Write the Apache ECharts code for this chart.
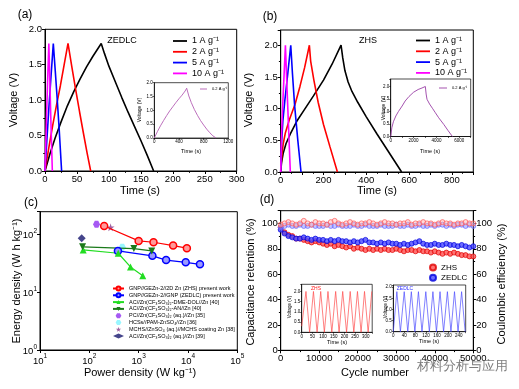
<!DOCTYPE html>
<html><head><meta charset="utf-8">
<script src="https://cdn.jsdelivr.net/npm/echarts@6/dist/echarts.min.js"></script>
<style>html,body{margin:0;padding:0;background:#fff}#c{width:519px;height:389px}</style>
</head><body><div id="c"></div>
<script>
// ---------- (a) ZEDLC GCD ----------
const a1T = [0, 8, 16, 25, 35, 45, 55, 65, 75, 88, 93, 100, 110, 120, 130, 140, 150, 160, 170];
const a1V = [0, 0.25, 0.47, 0.69, 0.92, 1.12, 1.3, 1.47, 1.62, 1.8, 1.66, 1.48, 1.26, 1.04, 0.83, 0.63, 0.43, 0.22, 0];
const a2T = [0, 6, 12, 18, 24, 30, 36, 42, 48, 54, 60, 66, 71.5];
const a2V = [0, 0.33, 0.64, 0.93, 1.2, 1.5, 1.8, 1.47, 1.15, 0.84, 0.54, 0.25, 0];
const a5T = [0, 3, 6, 9, 13, 16, 19, 22, 26];
const a5V = [0, 0.45, 0.88, 1.28, 1.8, 1.42, 1.03, 0.62, 0];
const a10T = [0, 1.5, 3, 4.5, 6, 7.5, 9, 10.5, 11.5];
const a10V = [0, 0.48, 0.95, 1.38, 1.8, 1.3, 0.78, 0.3, 0];
const aInT = [0, 50, 100, 150, 200, 250, 300, 350, 400, 450, 500, 525, 560, 600, 650, 700, 750, 800, 850, 900, 950, 1000];
const aInV = [0, 0.23, 0.44, 0.63, 0.81, 0.98, 1.13, 1.28, 1.42, 1.55, 1.7, 1.8, 1.52, 1.28, 1.03, 0.82, 0.63, 0.47, 0.32, 0.19, 0.08, 0];
// ---------- (b) ZHS GCD ----------
const b1T = [0, 4, 12, 25, 45, 75, 110, 153, 200, 240, 282, 290, 300, 315, 333, 360, 400, 450, 500, 565];
const b1V = [0, 0.15, 0.3, 0.45, 0.6, 0.8, 0.98, 1.2, 1.45, 1.7, 2.0, 1.8, 1.6, 1.42, 1.27, 1.1, 0.87, 0.6, 0.34, 0];
const b2T = [0, 5, 12, 22, 40, 67, 90, 112, 134, 140, 155, 175, 200, 230, 265];
const b2V = [0, 0.25, 0.45, 0.62, 0.82, 1.07, 1.35, 1.65, 2.0, 1.75, 1.45, 1.1, 0.75, 0.4, 0];
const b5T = [0, 4, 10, 20, 33, 47, 55, 65, 80, 95];
const b5V = [0, 0.45, 0.8, 1.15, 1.55, 2.0, 1.55, 1.05, 0.5, 0];
const b10T = [0, 3, 8, 14, 22, 28, 35, 45];
const b10V = [0, 0.5, 0.95, 1.4, 2.0, 1.45, 0.85, 0];
const bInT = [0, 100, 235, 450, 676, 1000, 1265, 1600, 2000, 2400, 2735, 3030, 3100, 3176, 3400, 3650, 3910, 4200, 4650, 5000, 5400];
const bInV = [0, 0.35, 0.59, 0.82, 1.0, 1.22, 1.42, 1.6, 1.77, 1.88, 1.94, 2.0, 1.7, 1.49, 1.3, 1.13, 0.95, 0.75, 0.48, 0.25, 0];
// ---------- (c) Ragone ----------
const cZhsP = [200, 1000, 2000, 5000, 9500];
const cZhsE = [137, 76, 72, 63, 57];
const cEdlcP = [380, 1900, 3600, 9000, 17500];
const cEdlcE = [51, 42, 35.5, 32.5, 30];
const cDmeP = [75, 386, 683, 1210];
const cDmeE = [53, 46.5, 27, 19];
const cAnP = [73, 800, 1845];
const cAnE = [60, 56, 51];
const cPC = [140, 147];
const cHCS = [465, 59];
const cMCHS = [270, 130];
const cAC = [70, 84];
// ---------- (d) cycling ----------
const dCycles = [0,1000,2000,3000,4000,5000,6000,7000,8000,9000,10000,11000,12000,13000,14000,15000,16000,17000,18000,19000,20000,21000,22000,23000,24000,25000,26000,27000,28000,29000,30000,31000,32000,33000,34000,35000,36000,37000,38000,39000,40000,41000,42000,43000,44000,45000,46000,47000,48000,49000,50000];
const dZhsRet = [97,93,91,90,88,88,87,86,85,86,85,84,83,84,82,83,82,81,82,80,81,80,79,80,79,80,79,80,79,79,80,79,78,79,79,78,79,78,78,77,78,77,76,77,76,77,76,75,75,74,74];
const dEdlcRet = [95,92,90,89,88,88,89,88,87,88,87,87,86,87,86,87,86,86,85,86,85,86,87,85,85,84,85,84,85,84,84,83,84,83,84,85,86,84,83,83,84,83,83,84,83,83,82,83,82,81,82];
const dZhsCE = [99,100,101,100,99,100,102,100,99,101,100,100,99,101,102,100,99,100,101,100,99,100,100,101,100,99,100,101,100,100,99,100,100,101,99,100,100,101,100,100,99,100,101,100,100,99,100,100,101,100,100];
const dEdlcCE = [97,98,99,98,98,99,98,98,99,98,98,98,99,98,98,99,98,98,98,99,98,98,99,98,98,98,99,98,98,98,99,98,98,99,98,98,99,98,98,99,98,99,99,98,99,98,99,99,98,99,98];
const dInZhsT = [0,20,37,55,72,89,106,123,141,159,175,192,210,227,244,261,278,294,311,328];
const dInZhsV = [0.3,2.0,0,2.0,0,2.0,0,2.0,0,2.0,0,2.0,0,2.0,0,2.0,0,2.0,0,2.0];
const dInEdlcT = [0,13,26,40,53,66,79,92,105,119,132,145,158,171,184,198,211,224,237,250,263];
const dInEdlcV = [0,1.8,0,1.8,0,1.8,0,1.8,0,1.8,0,1.8,0,1.8,0,1.8,0,1.8,0,1.8,0];

const FONT = "'Liberation Sans', Arial, sans-serif";
const zip = (xs, ys) => xs.map((x, i) => [x, ys[i]]);
const fmt = (step, dec) => v => (Math.abs(v / step - Math.round(v / step)) < 1e-6 ? v.toFixed(dec) : '');

function mainAxis(gi, min, max, interval, formatter, extra) {
  return Object.assign({
    gridIndex: gi, type: 'value', min, max, interval,
    axisLine: {show: true, onZero: false, lineStyle: {color: '#000', width: 1}},
    axisTick: {show: true, length: 3, lineStyle: {color: '#000', width: 1}},
    minorTick: {show: true, splitNumber: 2, length: 1.8, lineStyle: {color: '#000', width: 1}},
    splitLine: {show: false},
    axisLabel: {fontSize: 9.5, color: '#000', margin: 3, formatter}
  }, extra || {});
}
function insetAxis(gi, min, max, interval, formatter, extra) {
  return Object.assign({
    gridIndex: gi, type: 'value', min, max, interval,
    axisLine: {show: true, onZero: false, lineStyle: {color: '#000', width: 0.7}},
    axisTick: {show: true, length: 1.5, lineStyle: {color: '#000', width: 0.6}},
    minorTick: {show: false},
    splitLine: {show: false},
    axisLabel: {fontSize: 4.5, color: '#000', margin: 1.5, formatter}
  }, extra || {});
}
const logFmt = v => { const e = Math.log10(v); return Math.abs(e - Math.round(e)) < 1e-6 ? '{b|10}{s|' + Math.round(e) + '}' : ''; };
const logRich = {b: {fontSize: 9.5, lineHeight: 13, verticalAlign: 'bottom'}, s: {fontSize: 6.5, lineHeight: 13, verticalAlign: 'top'}};
function logAxis(gi, min, max) {
  return {
    gridIndex: gi, type: 'log', logBase: 10, min, max,
    axisLine: {show: true, onZero: false, lineStyle: {color: '#000', width: 1}},
    axisTick: {show: true, length: 3, lineStyle: {color: '#000', width: 1}},
    minorTick: {show: false},
    splitLine: {show: false},
    axisLabel: {color: '#000', margin: 3, formatter: logFmt, rich: logRich}
  };
}
const box = {show: true, borderColor: '#000', borderWidth: 1, backgroundColor: 'transparent'};
const grids = [
  Object.assign({left: 45, top: 29.3, width: 191.7, height: 141.7}, box),
  Object.assign({left: 154.3, top: 82.7, width: 74, height: 55.3}, box, {borderWidth: 0.7, backgroundColor: '#fff'}),
  Object.assign({left: 280.7, top: 30, width: 192.6, height: 142}, box),
  Object.assign({left: 390.7, top: 79, width: 80, height: 57.5}, box, {borderWidth: 0.7, backgroundColor: '#fff'}),
  Object.assign({left: 40, top: 211.7, width: 197.3, height: 138.3}, box),
  Object.assign({left: 280.7, top: 210.7, width: 192.6, height: 139.6}, box),
  Object.assign({left: 301.7, top: 284.3, width: 70.5, height: 48}, box, {borderWidth: 0.7, backgroundColor: '#fff'}),
  Object.assign({left: 393.3, top: 285, width: 72.4, height: 46.7}, box, {borderWidth: 0.7, backgroundColor: '#fff'})
];
const xAxes = [
  mainAxis(0, 0, 300, 50, fmt(50, 0)),
  insetAxis(1, 0, 1200, 400, fmt(400, 0)),
  mainAxis(2, 0, 900, 100, fmt(200, 0)),
  insetAxis(3, 0, 7000, 1000, fmt(2000, 0)),
  logAxis(4, 10, 100000),
  mainAxis(5, 0, 50000, 10000, fmt(10000, 0)),
  insetAxis(6, 0, 330, 50, fmt(50, 0)),
  insetAxis(7, 0, 265, 40, fmt(40, 0))
];
const yAxes = [
  mainAxis(0, 0, 2.0, 0.5, fmt(0.5, 1)),
  insetAxis(1, 0, 2.0, 0.5, fmt(0.5, 1)),
  mainAxis(2, 0, 2.24, 0.5, fmt(0.5, 1)),
  insetAxis(3, 0, 2.3, 0.5, fmt(0.5, 1)),
  logAxis(4, 1, 242),
  mainAxis(5, 0, 110, 20, fmt(20, 0), {position: 'left'}),
  insetAxis(6, 0, 2.35, 0.5, fmt(0.5, 1)),
  insetAxis(7, 0, 2.1, 0.5, fmt(0.5, 1)),
  mainAxis(5, 0, 110, 20, fmt(20, 0), {position: 'right'})
];

function line(name, xs, ys, color, gi, width, yi) {
  return {type: 'line', name, xAxisIndex: gi, yAxisIndex: yi === undefined ? gi : yi, data: zip(xs, ys),
    symbol: 'none', lineStyle: {color, width}, itemStyle: {color}, animation: false};
}
const series = [
  line('1 A g⁻¹', a1T, a1V, '#000000', 0, 1.6),
  line('2 A g⁻¹', a2T, a2V, '#ff0000', 0, 1.6),
  line('5 A g⁻¹', a5T, a5V, '#0000ff', 0, 1.6),
  line('10 A g⁻¹', a10T, a10V, '#ff00ff', 0, 1.6),
  line('0.2 A g⁻¹', aInT, aInV, '#b45fb4', 1, 0.9),
  line('1 A g⁻¹', b1T, b1V, '#000000', 2, 1.6),
  line('2 A g⁻¹', b2T, b2V, '#ff0000', 2, 1.6),
  line('5 A g⁻¹', b5T, b5V, '#0000ff', 2, 1.6),
  line('10 A g⁻¹', b10T, b10V, '#ff00ff', 2, 1.6),
  line('0.2 A g⁻¹ ', bInT, bInV, '#9a3fa6', 3, 0.9),
  line('ZHS inset', dInZhsT, dInZhsV, '#ff4a4a', 6, 0.7),
  line('ZEDLC inset', dInEdlcT, dInEdlcV, '#4a4aff', 7, 0.7)
];
const starPath = 'path://M50,0 L61,35 L98,35 L68,57 L79,91 L50,70 L21,91 L32,57 L2,35 L39,35 Z';
const hexPath = 'path://M25,0 L75,0 L100,43 L75,87 L25,87 L0,43 Z';
const cNames = [
  'GNP//GEZn-2//2D Zn (ZHS) present work',
  'GNP//GEZn-2//GNP (ZEDLC) present work',
  'AC//Zn(CF₃SO₃)₂-DME-DOL//Zn [40]',
  'AC//Zn(CF₃SO₃)₂-AN//Zn [40]',
  'PC//Zn(CF₃SO₃)₂ (aq.)//Zn [35]',
  'HCSs//PAM-ZnSO₄//Zn [36]',
  'MCHS//ZnSO₄ (aq.)//MCHS coating Zn [38]',
  'AC//Zn(CF₃SO₃)₂ (aq.)//Zn [39]'
];
function cLine(name, xs, ys, color, fill, symbol, rot, size) {
  return {type: 'line', name, xAxisIndex: 4, yAxisIndex: 4, data: zip(xs, ys), symbol, symbolRotate: rot || 0,
    symbolSize: size || 7, showSymbol: true, lineStyle: {color, width: 1.2},
    itemStyle: {color: fill, borderColor: color, borderWidth: fill === color ? 0 : 1.5}, animation: false};
}
function cPoint(name, pt, color, symbol, size) {
  return {type: 'scatter', name, xAxisIndex: 4, yAxisIndex: 4, data: [pt], symbol, symbolSize: size || 7,
    itemStyle: {color}, animation: false};
}
series.push(
  cLine(cNames[0], cZhsP, cZhsE, '#ff0000', '#ff9a9a', 'circle'),
  cLine(cNames[1], cEdlcP, cEdlcE, '#0000ff', '#9a9aff', 'circle'),
  cLine(cNames[2], cDmeP, cDmeE, '#22dd22', '#22dd22', 'triangle'),
  cLine(cNames[3], cAnP, cAnE, '#1b7a1b', '#1b7a1b', 'triangle', 180),
  cPoint(cNames[4], cPC, '#9030f0', hexPath, 7),
  cPoint(cNames[5], cHCS, '#80f4ff', hexPath, 7),
  cPoint(cNames[6], cMCHS, '#8a3a8a', starPath, 8),
  cPoint(cNames[7], cAC, '#16166e', 'diamond', 8)
);
function dScatter(name, ys, yi, fill, border) {
  return {type: 'scatter', name, xAxisIndex: 5, yAxisIndex: yi, data: zip(dCycles, ys), symbol: 'circle', symbolSize: 5,
    itemStyle: {color: fill, borderColor: border, borderWidth: 0.9}, animation: false};
}
series.push(
  dScatter('ZHS', dZhsRet, 5, '#ff5050', '#e00000'),
  dScatter('ZEDLC', dEdlcRet, 5, '#4848ff', '#0000dd'),
  dScatter('ZEDLC', dEdlcCE, 8, 'rgba(140,140,255,0.6)', '#6a6aff'),
  dScatter('ZHS', dZhsCE, 8, 'rgba(255,180,180,0.6)', '#ff5a5a')
);
const legends = [
  {data: ['1 A g⁻¹', '2 A g⁻¹', '5 A g⁻¹', '10 A g⁻¹'], left: 173, top: 36.5, orient: 'vertical', icon: 'rect', itemWidth: 14, itemHeight: 1.8, itemGap: 1.8, padding: 0, textStyle: {fontSize: 9, lineHeight: 8, color: '#000'}},
  {data: ['1 A g⁻¹', '2 A g⁻¹', '5 A g⁻¹', '10 A g⁻¹'], left: 416, top: 36, orient: 'vertical', icon: 'rect', itemWidth: 14, itemHeight: 1.8, itemGap: 1.8, padding: 0, textStyle: {fontSize: 9, lineHeight: 8, color: '#000'}},
  {data: ['0.2 A g⁻¹'], left: 200, top: 87, icon: 'rect', itemWidth: 7, itemHeight: 0.9, padding: 0, textStyle: {fontSize: 4, color: '#000'}},
  {data: ['0.2 A g⁻¹ '], left: 439, top: 86, icon: 'rect', itemWidth: 8, itemHeight: 0.9, padding: 0, textStyle: {fontSize: 4, color: '#000'}},
  {data: cNames, left: 112, top: 285.5, orient: 'vertical', itemWidth: 11, itemHeight: 5, itemGap: 0.8, padding: 0, textStyle: {fontSize: 5.5, color: '#000'}},
  {data: ['ZHS', 'ZEDLC'], left: 429, top: 263.5, orient: 'vertical', itemWidth: 6, itemHeight: 6, itemGap: 2.3, padding: 0, textStyle: {fontSize: 8, color: '#000'}}
];
function T(x, y, text, size, o) {
  o = o || {};
  return {type: 'text', x, y, rotation: o.rot ? Math.PI / 2 : 0, z: 100,
    style: {text, font: (size) + 'px ' + FONT, fill: o.color || '#000', align: o.align || 'center', verticalAlign: 'middle', opacity: o.opacity || 1}};
}
const graphics = [
  T(25, 15, '(a)', 12), T(14, 100, 'Voltage (V)', 11, {rot: 1}), T(140, 191, 'Time (s)', 11),
  T(122, 41, 'ZEDLC', 9), T(140, 110, 'Voltage (V)', 5, {rot: 1}), T(191, 151.5, 'Time (s)', 5.5),
  T(270, 17, '(b)', 12), T(249, 100, 'Voltage (V)', 11, {rot: 1}), T(377, 191, 'Time (s)', 11),
  T(368, 41, 'ZHS', 9), T(383.5, 108, 'Voltage (V)', 5, {rot: 1}), T(430, 151, 'Time (s)', 5.5),
  T(31, 203, '(c)', 12), T(17, 281, 'Energy density (W h kg⁻¹)', 11, {rot: 1}), T(140, 373, 'Power density (W kg⁻¹)', 11),
  T(267, 200, '(d)', 12), T(251, 282, 'Capacitance retention (%)', 11, {rot: 1}), T(502, 284, 'Coulombic efficiency (%)', 11, {rot: 1}),
  T(375, 373, 'Cycle number', 11),
  T(316, 288.5, 'ZHS', 5, {color: '#ff2020'}), T(289.5, 307, 'Voltage (V)', 4.5, {rot: 1}), T(337, 342, 'Time (s)', 5.5),
  T(405, 289, 'ZEDLC', 5, {color: '#3030ff'}), T(386, 307, 'Voltage (V)', 4.5, {rot: 1}), T(429, 341, 'Time (s)', 5.5),
  T(462, 366, '材料分析与应用', 13, {color: '#666', opacity: 0.85})
];
const chart = echarts.init(document.getElementById('c'), null, {renderer: 'canvas'});
chart.setOption({
  animation: false,
  backgroundColor: '#fff',
  textStyle: {fontFamily: FONT},
  grid: grids, xAxis: xAxes, yAxis: yAxes, series, legend: legends, graphic: graphics
});
</script></body></html>
